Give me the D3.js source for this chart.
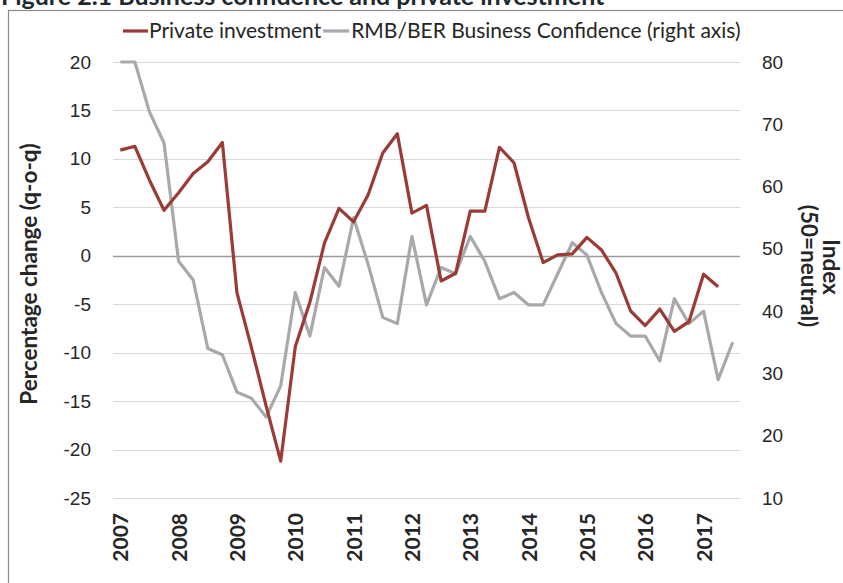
<!DOCTYPE html>
<html>
<head>
<meta charset="utf-8">
<script src="https://cdn.jsdelivr.net/npm/d3@7"></script>
<style>
  html, body { margin: 0; padding: 0; background: #fff; }
  svg { display: block; font-family: Lato, "Open Sans", sans-serif; }
  .tick-l, .tick-r { font-size: 19px; fill: #262626; }
  .year { font-size: 21px; font-weight: bold; fill: #262626; }
  .axis-title { font-size: 22.5px; font-weight: bold; fill: #262626; }
  .legend { font-size: 21px; fill: #262626; }
</style>
</head>
<body>
<svg id="chart" width="843" height="583"></svg>
<script>
// Quarterly series, 2007Q1 onwards.
var years = ['2007', '2008', '2009', '2010', '2011', '2012', '2013', '2014', '2015', '2016', '2017'];
var quarters = [];
years.forEach(function (y) { ['Q1', 'Q2', 'Q3', 'Q4'].forEach(function (q) { quarters.push(y + q); }); });
quarters = quarters.slice(0, 43); // up to 2017Q3

// Private investment, % q-o-q (left axis)
var privInv = [10.9, 11.3, 7.8, 4.7, 6.5, 8.5, 9.7, 11.7, -3.8, -9.5, -15.5, -21.2,
               -9.4, -4.8, 1.3, 4.9, 3.5, 6.3, 10.6, 12.6, 4.4, 5.2, -2.6, -1.8,
               4.6, 4.6, 11.2, 9.6, 3.9, -0.7, 0.1, 0.2, 1.9, 0.6, -1.8, -5.7,
               -7.2, -5.5, -7.8, -6.8, -1.9, -3.2];
// RMB/BER business confidence index (right axis)
var confidence = [80, 80, 72, 67, 48, 45, 34, 33, 27, 26, 23, 28,
                  43, 36, 47, 44, 55, 47.5, 39, 38, 52, 41, 47, 46,
                  52, 48, 42, 43, 41, 41, 46, 51, 49, 43, 38, 36,
                  36, 32, 42, 38, 40, 29, 35];

var leftTicks = [20, 15, 10, 5, 0, -5, -10, -15, -20, -25];
var rightTicks = [80, 70, 60, 50, 40, 30, 20, 10];

var C_RED = '#9a3b36';
var C_GREY = '#a7a9ac';

var svg = d3.select('#chart');
var m = { left: 113, right: 740, top: 62, bottom: 498 };

var x = d3.scalePoint().domain(quarters).range([m.left, m.right]).padding(0.5);
var yL = d3.scaleLinear().domain([-25, 20]).range([m.bottom, m.top]);
var yR = d3.scaleLinear().domain([10, 80]).range([m.bottom, m.top]);

// Title (cut off at the top edge, as in the source) and outer frame
svg.append('text').attr('x', 1).attr('y', 5)
    .attr('font-size', 25).attr('font-weight', 'bold').attr('fill', '#1f2a30')
    .text('Figure 2.1 Business confidence and private investment');
svg.append('rect').attr('x', 8.5).attr('y', 10.5).attr('width', 845).attr('height', 600)
    .attr('fill', 'none').attr('stroke', '#8c8c8c').attr('stroke-width', 1.2);

// Gridlines
var grid = svg.append('g');
leftTicks.forEach(function (v) {
    grid.append('line')
        .attr('x1', m.left).attr('x2', m.right)
        .attr('y1', Math.round(yL(v)) + 0.5).attr('y2', Math.round(yL(v)) + 0.5)
        .attr('stroke', v === 0 ? '#9a9a9a' : '#d9d9d9')
        .attr('stroke-width', v === 0 ? 1.5 : 1.2);
});

// Left axis (plain hyphen for negatives)
var ay = svg.append('g').attr('transform', 'translate(' + m.left + ',0)')
    .call(d3.axisLeft(yL).tickValues(leftTicks).tickFormat(function (d) { return String(d); })
        .tickSize(0).tickPadding(22));
ay.select('.domain').remove();
ay.selectAll('text').attr('class', 'tick-l').attr('font-family', null).attr('font-size', null).attr('fill', null);

// Right axis
var ayr = svg.append('g').attr('transform', 'translate(' + m.right + ',0)')
    .call(d3.axisRight(yR).tickValues(rightTicks).tickSize(0).tickPadding(22));
ayr.select('.domain').remove();
ayr.selectAll('text').attr('class', 'tick-r').attr('font-family', null).attr('font-size', null).attr('fill', null);

// Year labels, rotated, under the first quarter of each year
svg.append('g').selectAll('text')
    .data(years).enter().append('text')
    .attr('class', 'year')
    .attr('transform', function (d) { return 'translate(' + (x(d + 'Q1') + 8) + ',513) rotate(-90)'; })
    .attr('text-anchor', 'end')
    .text(function (d) { return d; });

// Axis titles
svg.append('text').attr('class', 'axis-title')
    .attr('transform', 'translate(37,274) rotate(-90)')
    .attr('text-anchor', 'middle')
    .text('Percentage change (q-o-q)');
svg.append('text').attr('class', 'axis-title')
    .attr('transform', 'translate(823,267) rotate(90)')
    .attr('text-anchor', 'middle')
    .text('Index');
svg.append('text').attr('class', 'axis-title')
    .attr('transform', 'translate(801,266) rotate(90)')
    .attr('text-anchor', 'middle')
    .text('(50=neutral)');

// Lines
var lineL = d3.line().x(function (d, i) { return x(quarters[i]); }).y(function (d) { return yL(d); });
var lineR = d3.line().x(function (d, i) { return x(quarters[i]); }).y(function (d) { return yR(d); });

svg.append('path').datum(confidence)
    .attr('fill', 'none').attr('stroke', C_GREY).attr('stroke-width', 3.2)
    .attr('stroke-linejoin', 'round').attr('d', lineR);
svg.append('path').datum(privInv)
    .attr('fill', 'none').attr('stroke', C_RED).attr('stroke-width', 3.2)
    .attr('stroke-linejoin', 'round').attr('d', lineL);

// Legend
var leg = svg.append('g').attr('transform', 'translate(123,31)');
leg.append('line').attr('x1', 0).attr('x2', 25).attr('y1', 0).attr('y2', 0)
    .attr('stroke', C_RED).attr('stroke-width', 3.2);
var t1 = leg.append('text').attr('class', 'legend').attr('x', 26).attr('y', 7).text('Private investment');
var w1 = t1.node().getComputedTextLength();
leg.append('line').attr('x1', 26 + w1 + 2).attr('x2', 26 + w1 + 28).attr('y1', 0).attr('y2', 0)
    .attr('stroke', C_GREY).attr('stroke-width', 3.2);
leg.append('text').attr('class', 'legend').attr('x', 26 + w1 + 30).attr('y', 7)
    .text('RMB/BER Business Confidence (right axis)');
</script>
</body>
</html>
